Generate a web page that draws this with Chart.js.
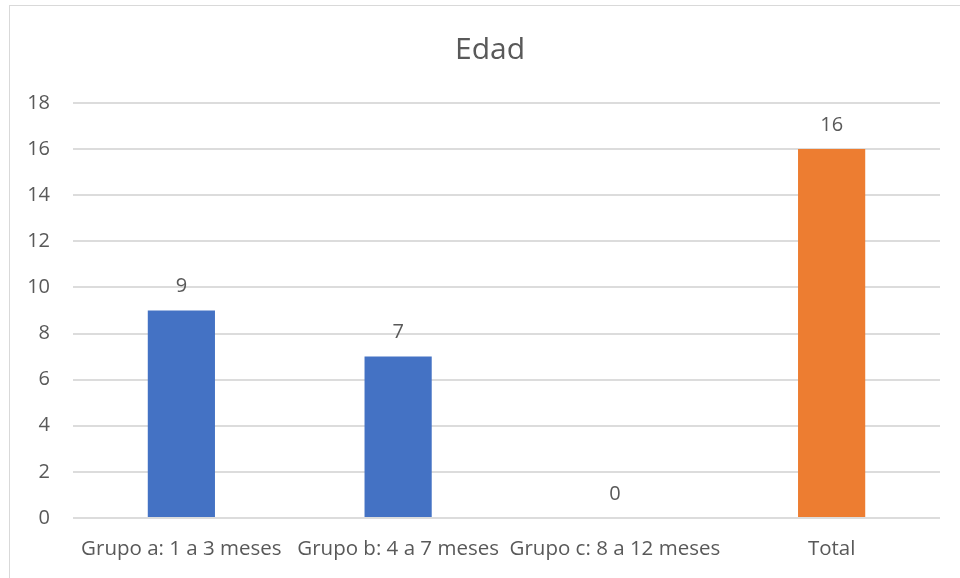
<!DOCTYPE html>
<html>
<head>
<meta charset="utf-8">
<script src="https://cdn.jsdelivr.net/npm/chart.js@4.4.1/dist/chart.umd.min.js"></script>
<style>
  html, body { margin: 0; padding: 0; background: #fff; overflow: hidden; }
  #wrap { width: 960px; height: 578px; overflow: hidden; position: relative; }
  #box { width: 994px; height: 585px; position: absolute; left: 0; top: 0; }
</style>
</head>
<body>
<div id="wrap"><div id="box"><canvas id="c" width="994" height="585"></canvas></div></div>
<script>
const categories = ['Grupo a: 1 a 3 meses', 'Grupo b: 4 a 7 meses', 'Grupo c: 8 a 12 meses', 'Total'];
const values = [9, 7, 0, 16];
const barColors = ['#4472C4', '#4472C4', '#4472C4', '#ED7D31'];
const titleText = 'Edad';

const FONT = '"Open Sans", Lato, "Liberation Sans", sans-serif';
const TEXT = '#595959';

// Outer frame of the chart area, plus the title centred on that frame
const framePlugin = {
  id: 'frame',
  beforeDraw(chart) {
    const ctx = chart.ctx;
    ctx.save();
    ctx.fillStyle = '#fff';
    ctx.fillRect(0, 0, chart.width, chart.height);
    ctx.strokeStyle = '#d9d9d9';
    ctx.lineWidth = 1;
    ctx.strokeRect(9.5, 5.5, 961, 600);
    ctx.font = '30px ' + FONT;
    ctx.fillStyle = TEXT;
    ctx.textAlign = 'center';
    ctx.textBaseline = 'middle';
    ctx.fillText(titleText, 9.5 + 961 / 2, 50);
    ctx.restore();
  }
};

// Value labels above each bar
const valueLabels = {
  id: 'valueLabels',
  afterDatasetsDraw(chart) {
    const ctx = chart.ctx;
    const meta = chart.getDatasetMeta(0);
    ctx.save();
    ctx.font = '20px ' + FONT;
    ctx.fillStyle = TEXT;
    ctx.textAlign = 'center';
    ctx.textBaseline = 'middle';
    meta.data.forEach((bar, i) => {
      ctx.fillText(String(chart.data.datasets[0].data[i]), bar.x, bar.y - 24);
    });
    ctx.restore();
  }
};

new Chart(document.getElementById('c'), {
  type: 'bar',
  data: {
    labels: categories,
    datasets: [{
      data: values,
      backgroundColor: barColors,
      borderWidth: 0,
      categoryPercentage: 1,
      barPercentage: 0.31
    }]
  },
  options: {
    responsive: false,
    animation: false,
    devicePixelRatio: 1,
    layout: { padding: { left: 9, right: 54, top: 103, bottom: 0 } },
    plugins: {
      legend: { display: false },
      tooltip: { enabled: false },
      title: { display: false }
    },
    scales: {
      x: {
        grid: { display: false, drawTicks: false },
        border: { display: false },
        ticks: { color: TEXT, font: { family: FONT, size: 20.5 }, padding: 19, maxRotation: 0, autoSkip: false },
        afterFit(scale) { scale.height = 67; }
      },
      y: {
        min: 0, max: 18,
        grid: { color: '#dcdcdc', lineWidth: 2, drawTicks: false },
        border: { display: false },
        ticks: { stepSize: 2, color: TEXT, font: { family: FONT, size: 20 }, padding: 23 },
        afterFit(scale) { scale.width = 64; }
      }
    }
  },
  plugins: [framePlugin, valueLabels]
});
</script>
</body>
</html>
